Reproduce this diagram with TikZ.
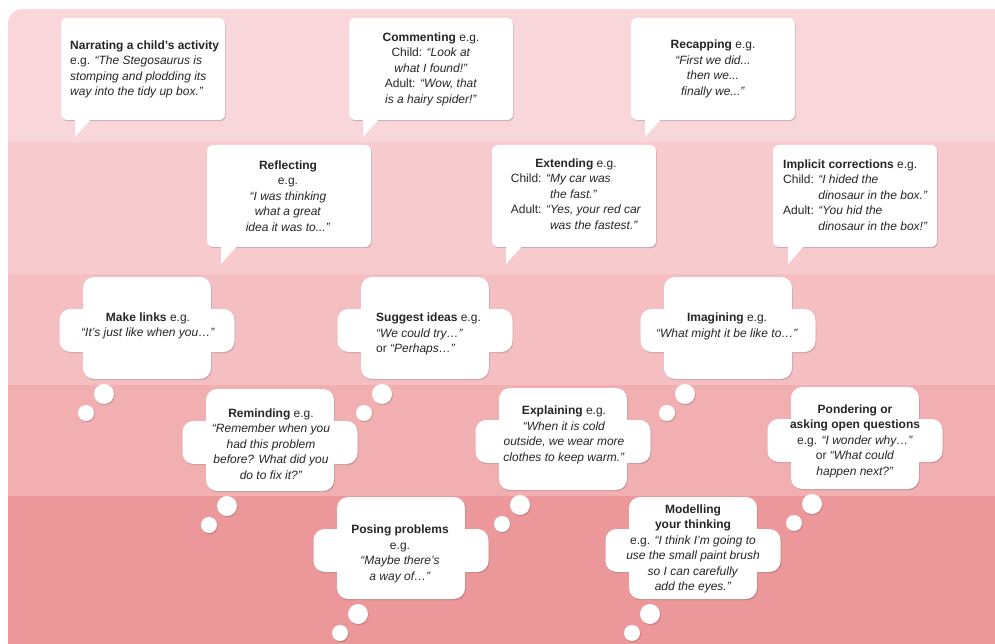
\documentclass[tikz,border=0pt]{standalone}
\usepackage{fontspec}
\setmainfont{Liberation Sans}
\usetikzlibrary{shadows}

\definecolor{bandA}{HTML}{F9D6D9}
\definecolor{bandB}{HTML}{F7CBCD}
\definecolor{bandC}{HTML}{F5BFC2}
\definecolor{bandD}{HTML}{F2AFB1}
\definecolor{bandE}{HTML}{EC9799}
\definecolor{inkc}{HTML}{262626}

\tikzset{
  bubble/.style={fill=white, drop shadow={shadow xshift=0.8pt, shadow yshift=-1.2pt, opacity=0.16, fill=black}},
  txt/.style={font=\fontsize{12}{15.5}\selectfont, text=inkc, inner sep=0pt},
}

% speech box: left, top, tail x
\newcommand{\speechbox}[3]{%
  \fill[bubble, rounded corners=6pt] (#1,#2) rectangle ++(164,102);
  \fill[white] (#3,#2+100) -- (#3,#2+119) -- (#3+17,#2+100) -- cycle;
}
% thought cloud: left of tall part, top
\newcommand{\thinkcloud}[2]{%
  \fill[bubble, rounded corners=11pt] (#1,#2) rectangle ++(128,102) (#1-23.5,#2+32) rectangle ++(175,43);
  \fill[bubble] (#1+21,#2+117) circle[radius=10pt] (#1+3,#2+136) circle[radius=8pt];
}

\begin{document}
\begin{tikzpicture}[x=1pt, y=-1pt]
\useasboundingbox (0,0) rectangle (995,644);

% Background bands
\begin{scope}
  \clip[rounded corners=15pt] (8,9) rectangle (1030,680);
  \fill[bandA] (0,0) rectangle (1030,142);
  \fill[bandB] (0,142) rectangle (1030,274);
  \fill[bandC] (0,274) rectangle (1030,385);
  \fill[bandD] (0,385) rectangle (1030,496);
  \fill[bandE] (0,496) rectangle (1030,680);
\end{scope}

% Speech boxes
\speechbox{61}{18}{75}
\speechbox{349}{18}{363}
\speechbox{631}{18}{645}
\speechbox{207}{145}{221}
\speechbox{492}{145}{506}
\speechbox{773}{145}{788}

% Thought clouds
\thinkcloud{83}{277}
\thinkcloud{361}{277}
\thinkcloud{664}{277}
\thinkcloud{206}{389}
\thinkcloud{499}{388}
\thinkcloud{791}{387}
\thinkcloud{337}{497}
\thinkcloud{629}{497}

% Define the texts
\node[txt, align=left, anchor=west] (narrate) at (70,69.5)
  {\textbf{Narrating a child's activity}\\ e.g. \textit{“The Stegosaurus is}\\ \textit{stomping and plodding its}\\ \textit{way into the tidy up box.”}};
\node[txt, align=center] (comment) at (431,69)
  {\textbf{Commenting} e.g.\\ Child: \textit{“Look at}\\ \textit{what I found!”}\\ Adult: \textit{“Wow, that}\\ \textit{is a hairy spider!”}};
\node[txt, align=center] (recap) at (713,69)
  {\textbf{Recapping} e.g.\\ \textit{“First we did...}\\ \textit{then we...}\\ \textit{finally we...”}};
\node[txt, align=center] (reflect) at (288,196)
  {\textbf{Reflecting}\\ e.g.\\ \textit{“I was thinking}\\ \textit{what a great}\\ \textit{idea it was to...”}};
\node[txt] (extend) at (576,195)
  {\begin{tabular}{@{}l@{ }l@{}}
   \multicolumn{2}{c}{\textbf{Extending} e.g.}\\
   Child: & \textit{“My car was}\\
          & \textit{\hphantom{“}the fast.”}\\
   Adult: & \textit{“Yes, your red car}\\
          & \textit{\hphantom{“}was the fastest.”}
   \end{tabular}};
\node[txt, anchor=west] (implicit) at (783,196)
  {\begin{tabular}{@{}l@{ }l@{}}
   \multicolumn{2}{@{}l}{\textbf{Implicit corrections} e.g.}\\
   Child: & \textit{“I hided the}\\
          & \textit{dinosaur in the box.”}\\
   Adult: & \textit{“You hid the}\\
          & \textit{dinosaur in the box!”}
   \end{tabular}};

\node[txt, align=center] (links) at (148,326)
  {\textbf{Make links} e.g.\\ \textit{“It's just like when you…”}};
\node[txt, align=left, anchor=west] (suggest) at (376,334)
  {\textbf{Suggest ideas} e.g.\\ \textit{“We could try…”}\\ or \textit{“Perhaps…”}};
\node[txt, align=center] (imagine) at (727,326.5)
  {\textbf{Imagining} e.g.\\ \textit{“What might it be like to…”}};
\node[txt, align=center] (remind) at (271,444)
  {\textbf{Reminding} e.g.\\ \textit{“Remember when you}\\ \textit{had this problem}\\ \textit{before? What did you}\\ \textit{do to fix it?”}};
\node[txt, align=center] (explain) at (564,435)
  {\textbf{Explaining} e.g.\\ \textit{“When it is cold}\\ \textit{outside, we wear more}\\ \textit{clothes to keep warm.”}};
\node[txt, align=center] (ponder) at (855,441)
  {\textbf{Pondering or}\\ \textbf{asking open questions}\\ e.g. \textit{“I wonder why…”}\\ or \textit{“What could}\\ \textit{happen next?”}};
\node[txt, align=center] (posing) at (400,554)
  {\textbf{Posing problems}\\ e.g.\\ \textit{“Maybe there's}\\ \textit{a way of…”}};
\node[txt, align=center] (model) at (693,549)
  {\textbf{Modelling}\\ \textbf{your thinking}\\ e.g. \textit{“I think I'm going to}\\ \textit{use the small paint brush}\\ \textit{so I can carefully}\\ \textit{add the eyes.”}};
\end{tikzpicture}
\end{document}
